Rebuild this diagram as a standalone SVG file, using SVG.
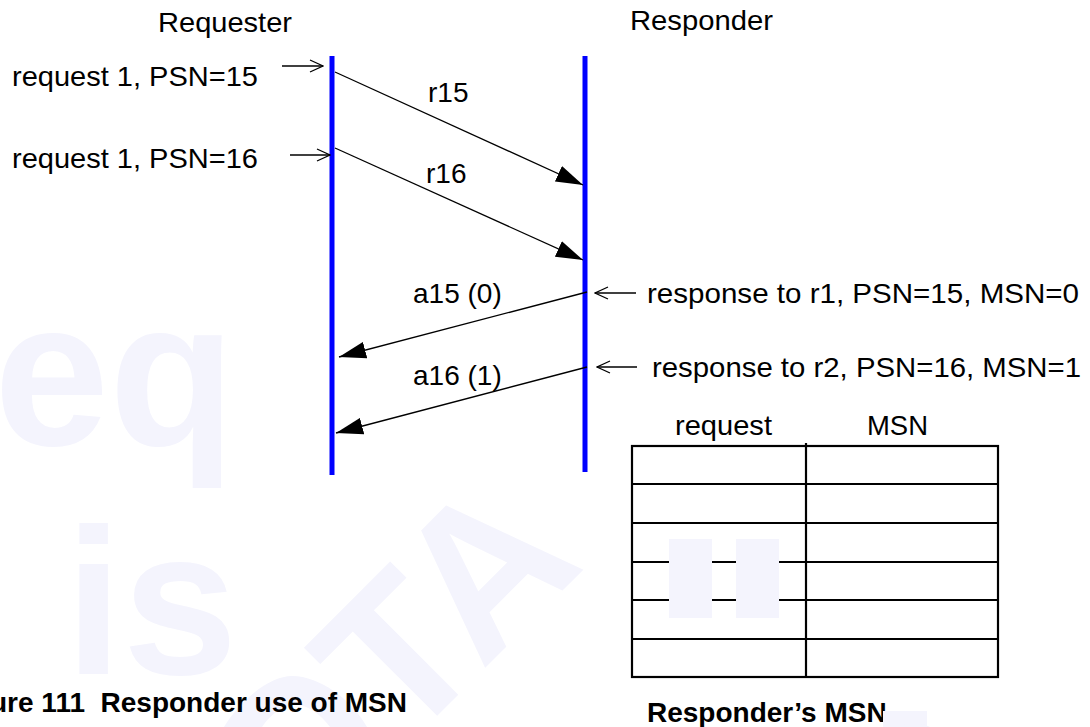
<svg xmlns="http://www.w3.org/2000/svg" width="1090" height="727" viewBox="0 0 1090 727">
<style>
.t{font-family:"Liberation Sans",Arial,sans-serif;font-size:28px;fill:#000}
.b{font-family:"Liberation Sans",Arial,sans-serif;font-size:28px;font-weight:bold;fill:#000}
.wm{font-family:"Liberation Sans",Arial,sans-serif;font-size:207px;font-weight:bold;fill:#f4f4fd}
.wf{fill:#f4f4fd}
.life{stroke:#0000ff;stroke-width:5;fill:none}
.msg{stroke:#000;stroke-width:1.3;fill:none}
.grid{stroke:#000;stroke-width:2.2;fill:none}
</style>
<defs>
<marker id="solid" viewBox="0 0 27 17" refX="27" refY="8.5" markerWidth="27" markerHeight="17" markerUnits="userSpaceOnUse" orient="auto">
<path d="M0,0 L27,8.5 L0,17 z" fill="#000"/>
</marker>
<marker id="open" viewBox="-1 -1 15 14" refX="13" refY="6" markerWidth="15" markerHeight="14" markerUnits="userSpaceOnUse" orient="auto">
<path d="M0,0 L13,6 L0,12" fill="none" stroke="#000" stroke-width="1.3"/>
</marker>
</defs>
<g id="requester">
<text class="t" x="158" y="32" textLength="134" lengthAdjust="spacingAndGlyphs">Requester</text>
<line class="life" x1="332" y1="56" x2="332" y2="475"/>
</g>
<g id="responder">
<text class="t" x="630" y="30" textLength="143" lengthAdjust="spacingAndGlyphs">Responder</text>
<line class="life" x1="585" y1="56" x2="585" y2="472"/>
</g>
<g id="req15"><text class="t" x="12" y="86" textLength="246" lengthAdjust="spacingAndGlyphs">request 1, PSN=15</text></g>
<g id="req16"><text class="t" x="12" y="168" textLength="246" lengthAdjust="spacingAndGlyphs">request 1, PSN=16</text></g>
<g id="resp1"><text class="t" x="647" y="303" textLength="432" lengthAdjust="spacingAndGlyphs">response to r1, PSN=15, MSN=0</text></g>
<g id="resp2"><text class="t" x="652" y="377" textLength="429" lengthAdjust="spacingAndGlyphs">response to r2, PSN=16, MSN=1</text></g>
<g id="connectors">
<line class="msg" x1="282" y1="66" x2="323" y2="66" marker-end="url(#open)"/>
<line class="msg" x1="290" y1="155" x2="330" y2="155" marker-end="url(#open)"/>
<line class="msg" x1="636" y1="293" x2="595" y2="293" marker-end="url(#open)"/>
<line class="msg" x1="637" y1="367" x2="597" y2="367" marker-end="url(#open)"/>
<line class="msg" x1="335" y1="72" x2="583" y2="185" marker-end="url(#solid)"/>
<line class="msg" x1="335" y1="148" x2="583" y2="260" marker-end="url(#solid)"/>
<line class="msg" x1="587" y1="292" x2="339" y2="357" marker-end="url(#solid)"/>
<line class="msg" x1="587" y1="367" x2="336" y2="433" marker-end="url(#solid)"/>
<text class="t" x="428" y="102">r15</text>
<text class="t" x="426" y="183">r16</text>
<text class="t" x="413" y="303">a15 (0)</text>
<text class="t" x="413" y="385">a16 (1)</text>
</g>
<g id="msn-table">
<text class="t" x="675" y="435" textLength="97" lengthAdjust="spacingAndGlyphs">request</text>
<text class="t" x="867" y="435" textLength="61" lengthAdjust="spacingAndGlyphs">MSN</text>
<rect class="grid" x="632" y="446" width="366" height="231"/>
<line class="grid" x1="806" y1="443" x2="806" y2="677"/>
<line class="grid" x1="632" y1="484" x2="998" y2="484"/>
<line class="grid" x1="632" y1="523" x2="998" y2="523"/>
<line class="grid" x1="632" y1="562" x2="998" y2="562"/>
<line class="grid" x1="632" y1="600" x2="998" y2="600"/>
<line class="grid" x1="632" y1="639" x2="998" y2="639"/>
<text class="b" x="647" y="722">Responder’s MSN</text>
</g>
<g id="watermark">
<text class="wm" x="-6" y="445">eq</text>
<text class="wm" x="65" y="674">is</text>
<text class="wm" transform="translate(403,750) rotate(-45)">TA</text>
<rect class="wf" x="669" y="539" width="43" height="79"/>
<rect class="wf" x="736" y="539" width="43" height="79"/>
<rect class="wf" x="883" y="711" width="44" height="16"/>
<path class="wf" fill-rule="evenodd" d="M224,727 C240,700 270,676 292,676 C320,676 352,700 367,727 Z M262,727 C272,712 285,705 296,705 C308,705 320,714 330,727 Z"/>
<ellipse class="wf" cx="913" cy="770" rx="42" ry="47"/>
</g>
<g id="caption">
<text class="b" x="-10" y="712" style="white-space:pre">ure 111  Responder use of MSN</text>
</g>
</svg>
